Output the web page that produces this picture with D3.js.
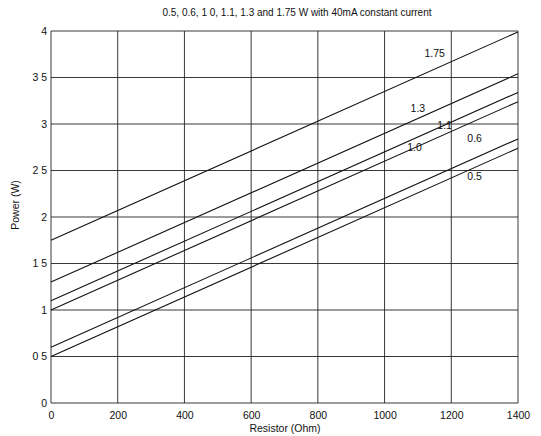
<!DOCTYPE html>
<html>
<head>
<meta charset="utf-8">
<script src="https://cdn.jsdelivr.net/npm/d3@7"></script>
<style>
  body { margin: 0; background: #fff; }
  text { font-family: "Liberation Sans", Arial, sans-serif; fill: #111; }
  .grid line { stroke: #222; stroke-width: 0.9; }
  .series { fill: none; stroke: #111; stroke-width: 1.1; }
</style>
</head>
<body>
<script>
// series: base wattage, power at 0 ohm and at 1400 ohm
const resistor = [0, 1400];
const power05 = [0.5, 2.74];
const power06 = [0.6, 2.84];
const power10 = [1.0, 3.24];
const power11 = [1.1, 3.34];
const power13 = [1.3, 3.54];
const power175 = [1.75, 3.99];
// label anchor points (resistor, power)
const labelAt = [[1270, 2.43], [1270, 2.84], [1090, 2.74], [1180, 2.98], [1100, 3.16], [1150, 3.75]];
const labelText = ["0.5", "0.6", "1.0", "1.1", "1.3", "1.75"];
const xTicks = [0, 200, 400, 600, 800, 1000, 1200, 1400];
const yTicks = [0, 0.5, 1, 1.5, 2, 2.5, 3, 3.5, 4];
const yTickLabels = ["0", "0 5", "1", "1 5", "2", "2 5", "3", "3 5", "4"];

const allSeries = [power05, power06, power10, power11, power13, power175];

const W = 541, H = 436;
const margin = { top: 31, right: 23, bottom: 33, left: 51 };

const svg = d3.select("body").append("svg")
    .attr("width", W).attr("height", H);

const x = d3.scaleLinear().domain([0, 1400]).range([margin.left, W - margin.right]);
const y = d3.scaleLinear().domain([0, 4]).range([H - margin.bottom, margin.top]);

// grid
const grid = svg.append("g").attr("class", "grid");
grid.selectAll(".vx").data(xTicks).enter().append("line")
    .attr("x1", d => x(d)).attr("x2", d => x(d))
    .attr("y1", y(0)).attr("y2", y(4));
grid.selectAll(".hy").data(yTicks).enter().append("line")
    .attr("x1", x(0)).attr("x2", x(1400))
    .attr("y1", d => y(d)).attr("y2", d => y(d));

// tick labels via d3 axes
svg.append("g")
    .attr("transform", `translate(0,${y(0)})`)
    .call(d3.axisBottom(x).tickValues(xTicks).tickSize(0).tickPadding(9).tickFormat(d3.format("d")))
    .call(g => g.select(".domain").remove())
    .selectAll("text").attr("font-size", 10.5).style("font-family", "Liberation Sans, Arial, sans-serif");

svg.append("g")
    .attr("transform", `translate(${x(0)},0)`)
    .call(d3.axisLeft(y).tickValues(yTicks).tickSize(0).tickPadding(4)
        .tickFormat((d, i) => yTickLabels[i]))
    .call(g => g.select(".domain").remove())
    .selectAll("text").attr("font-size", 10.5).style("font-family", "Liberation Sans, Arial, sans-serif");

// lines
const line = d3.line().x((d, i) => x(resistor[i])).y(d => y(d));
svg.selectAll(".series").data(allSeries).enter().append("path")
    .attr("class", "series")
    .attr("d", d => line(d));

// line labels
svg.selectAll(".lbl").data(labelAt).enter().append("text")
    .attr("x", d => x(d[0])).attr("y", d => y(d[1]))
    .attr("dy", 3)
    .attr("text-anchor", "middle")
    .attr("font-size", 10.5)
    .text((d, i) => labelText[i]);

// title
svg.append("text")
    .attr("x", 297).attr("y", 16)
    .attr("text-anchor", "middle")
    .attr("font-size", 10)
    .text("0.5, 0.6, 1 0, 1.1, 1.3 and 1.75 W with 40mA constant current");

// axis titles
svg.append("text")
    .attr("x", 285).attr("y", 432)
    .attr("text-anchor", "middle")
    .attr("font-size", 10.5)
    .text("Resistor (Ohm)");

svg.append("text")
    .attr("transform", `translate(19,205) rotate(-90)`)
    .attr("text-anchor", "middle")
    .attr("font-size", 10.5)
    .text("Power (W)");
</script>
</body>
</html>
